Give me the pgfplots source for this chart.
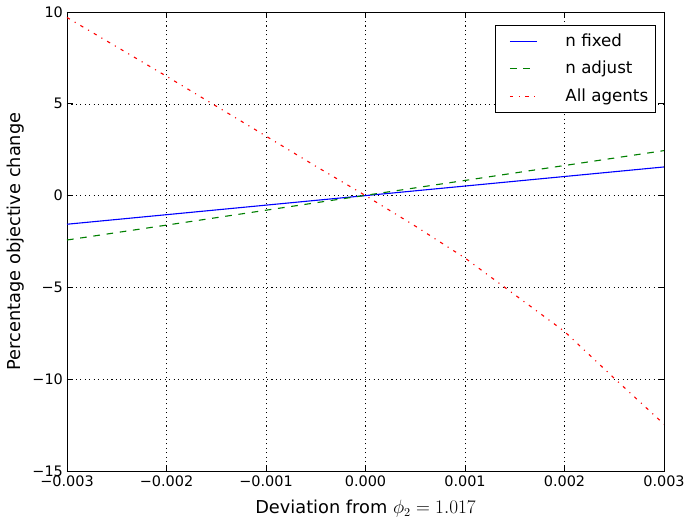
\documentclass[border=0pt]{standalone}
\usepackage{fontspec}
\setmainfont{DejaVu Sans}
\usepackage{pgfplots}
\pgfplotsset{compat=1.18}
\definecolor{mplblue}{rgb}{0,0,1}
\definecolor{mplgreen}{rgb}{0,0.5,0}
\definecolor{mplred}{rgb}{1,0,0}
\begin{document}
\fontsize{12}{14.4}\selectfont
\begin{tikzpicture}
\useasboundingbox (-60.3pt,-48.6pt) rectangle (558.9pt,423.9pt);
\begin{axis}[
    at={(0,0)}, anchor=south west,
    scale only axis,
    width=537.3pt, height=413.1pt,
    xmin=-0.003, xmax=0.003,
    ymin=-15, ymax=10,
    xtick={-0.003,-0.002,-0.001,0,0.001,0.002,0.003},
    xticklabels={−0.003,−0.002,−0.001,0.000,0.001,0.002,0.003},
    ytick={-15,-10,-5,0,5,10},
    yticklabels={−15,−10,−5,0,5,10},
    scaled x ticks=false,
    tick align=inside,
    major tick length=5pt,
    tick style={black, line width=0.6pt},
    axis line style={black, line width=0.8pt},
    grid=major,
    major grid style={black, line width=0.5pt, dash pattern=on 1pt off 3pt},
    every tick label/.append style={font=\fontsize{13}{15}\selectfont},
    yticklabel style={xshift=0.5pt},
    xlabel={Deviation from $\phi_2=1.017$},
    ylabel={Percentage objective change},
    xlabel style={font=\fontsize{16}{19}\selectfont, yshift=-4pt},
    ylabel style={font=\fontsize{16}{19}\selectfont, yshift=-1pt},
    legend style={
        at={(1,1)}, xshift=-8pt, yshift=-11.5pt, anchor=north east,
        font=\fontsize{15}{18}\selectfont,
        inner xsep=4pt, inner ysep=6pt,
        row sep=7.5pt,
        nodes={inner xsep=2pt},
        cells={anchor=west},
    },
    legend image code/.code={
        \path[draw=none] (-9.5pt,0pt) -- (48pt,0pt);
        \draw[#1] (0pt,0pt) -- (24pt,0pt);
    },
]
\addplot[mplblue, line width=1pt] coordinates {
    (-0.003,-1.56) (0.003,1.56)
};
\addlegendentry{n fixed}
\addplot[mplgreen, line width=1pt, dash pattern=on 6pt off 6pt] coordinates {
    (-0.003,-2.42) (0.003,2.45)
};
\addlegendentry{n adjust}
\addplot[mplred, line width=1pt, dash pattern=on 3pt off 5pt on 1pt off 5pt] coordinates {
    (-0.003,9.7) (-0.0025,8.1) (-0.002,6.5) (-0.0015,4.87) (-0.001,3.24)
    (-0.0005,1.6) (0,0) (0.0005,-1.66) (0.001,-3.4) (0.0015,-5.4)
    (0.002,-7.4) (0.0025,-9.95) (0.003,-12.45)
};
\addlegendentry{All agents}
\end{axis}
\end{tikzpicture}
\end{document}
